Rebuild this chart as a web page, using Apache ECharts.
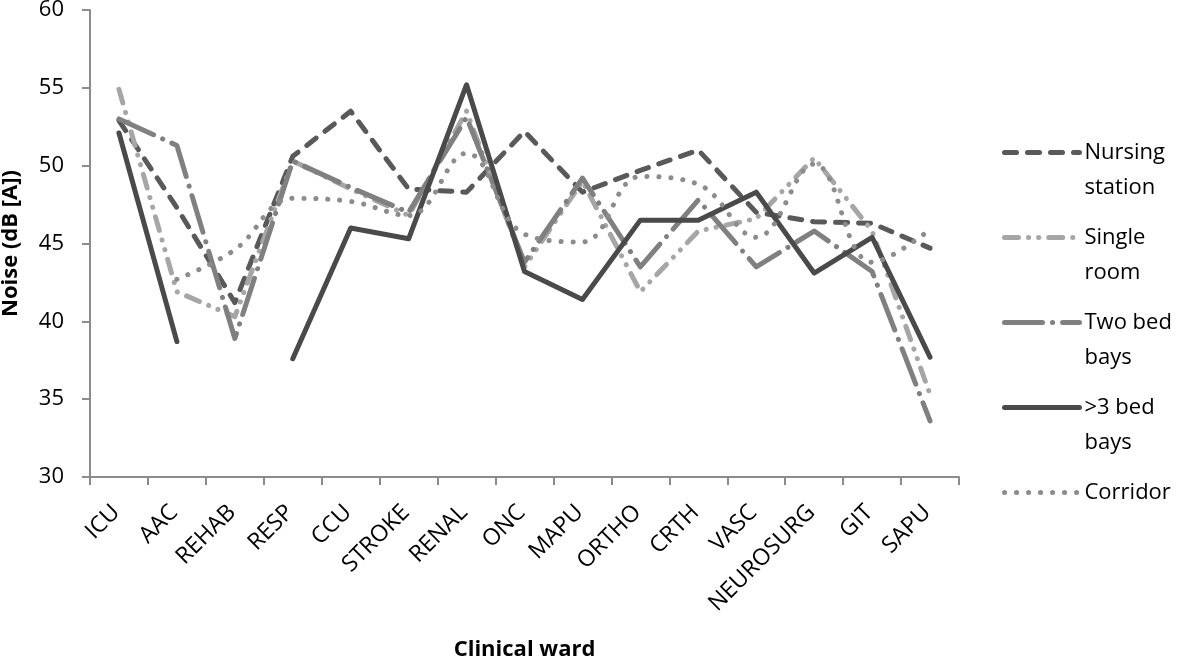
<!DOCTYPE html>
<html>
<head>
<meta charset="utf-8" />
<title>Noise by clinical ward</title>
<style>
  html, body { margin: 0; padding: 0; background: #fff; }
  #chart { width: 1181px; height: 660px; }
</style>
<script src="https://cdn.jsdelivr.net/npm/echarts@6/dist/echarts.min.js"></script>
</head>
<body>
<div id="chart"></div>
<script>
// wards along the x axis
var wards = ['ICU', 'AAC', 'REHAB', 'RESP', 'CCU', 'STROKE', 'RENAL', 'ONC', 'MAPU',
  'ORTHO', 'CRTH', 'VASC', 'NEUROSURG', 'GIT', 'SAPU'];

// noise, dB(A) (null = no value)
var nursingStation = [52.9, 47.3, 41.2, 50.6, 53.5, 48.5, 48.3, 52.2, 48.3, 49.7, 51.0, 47.0, 46.4, 46.3, 44.7];
var singleRoom = [54.9, 41.9, 40.3, 50.3, 48.5, 46.8, 53.5, 43.5, 49.0, 41.9, 45.8, 46.6, 50.5, 45.8, 35.3];
var twoBedBays = [53.0, 51.3, 38.9, 50.3, 48.6, 47.0, 53.1, 43.8, 49.2, 43.5, 47.8, 43.5, 45.8, 43.2, 33.6];
var threeBedBays = [52.1, 38.7, null, 37.6, 46.0, 45.3, 55.2, 43.2, 41.4, 46.5, 46.5, 48.3, 43.1, 45.4, 37.7];
var corridor = [null, 42.7, 44.6, 47.9, 47.7, 46.8, 50.8, 45.6, 45.1, 49.3, 48.8, 45.4, 50.1, 43.8, 45.9];

var yTicks = { min: 30, max: 60, step: 5 };

var font = 'Open Sans';
var LH = 35;

function line(name, data, color, dash, smooth) {
  return {
    name: name,
    type: 'line',
    data: data,
    symbol: 'none',
    smooth: smooth || false,
    lineStyle: { color: color, width: 5, type: dash, cap: 'round', join: 'round' },
    itemStyle: { color: color }
  };
}

var chart = echarts.init(document.getElementById('chart'));

// legend text: blank first line so the icon sits level with the first word
var legendLabels = {
  'Nursing station': ' \nNursing\nstation',
  'Single room': ' \nSingle\nroom',
  'Two bed bays': ' \nTwo bed\nbays',
  '>3 bed bays': ' \n>3 bed\nbays',
  'Corridor': ' \nCorridor\n '
};

chart.setOption({
  animation: false,
  backgroundColor: '#fff',
  grid: { left: 90, right: 222, top: 10, bottom: 183, outerBoundsMode: 'none' },
  legend: {
    orient: 'vertical',
    left: 1002,
    top: 100,
    padding: 0,
    itemGap: -20,
    itemWidth: 75,
    itemHeight: 1,
    data: Object.keys(legendLabels),
    formatter: function (n) { return legendLabels[n]; },
    lineStyle: { width: 5 },
    textStyle: { fontFamily: font, fontSize: 22, lineHeight: LH, color: '#000' }
  },
  xAxis: {
    type: 'category',
    data: wards,
    boundaryGap: true,
    name: 'Clinical ward',
    nameLocation: 'middle',
    nameGap: 162,
    nameTextStyle: { fontFamily: font, fontSize: 22, fontWeight: 'bold', color: '#000' },
    axisLine: { lineStyle: { color: '#8c8c8c', width: 2 } },
    axisTick: { show: true, length: 8, lineStyle: { color: '#8c8c8c', width: 2 } },
    axisLabel: {
      rotate: 45, interval: 0, fontFamily: font, fontSize: 23, color: '#000',
      margin: 29, padding: [0, 4, 0, 0]
    },
    splitLine: { show: false }
  },
  yAxis: {
    type: 'value',
    min: yTicks.min,
    max: yTicks.max,
    interval: yTicks.step,
    name: 'Noise (dB [A])',
    nameLocation: 'middle',
    nameGap: 68,
    nameTextStyle: { fontFamily: font, fontSize: 22, fontWeight: 'bold', color: '#000' },
    axisLine: { show: true, lineStyle: { color: '#8c8c8c', width: 2 } },
    axisTick: { show: true, length: 8, lineStyle: { color: '#8c8c8c', width: 2 } },
    axisLabel: { fontFamily: font, fontSize: 22, color: '#000', margin: 26 },
    splitLine: { show: false }
  },
  series: [
    line('Nursing station', nursingStation, '#595959', [12, 11]),
    line('Single room', singleRoom, '#a6a6a6', [14, 10, 0.1, 10, 0.1, 10]),
    line('Two bed bays', twoBedBays, '#808080', [38, 10, 0.1, 10]),
    line('>3 bed bays', threeBedBays, '#4a4a4a', 'solid'),
    line('Corridor', corridor, '#8c8c8c', [0.1, 11.9], 0.4)
  ]
});
</script>
</body>
</html>
